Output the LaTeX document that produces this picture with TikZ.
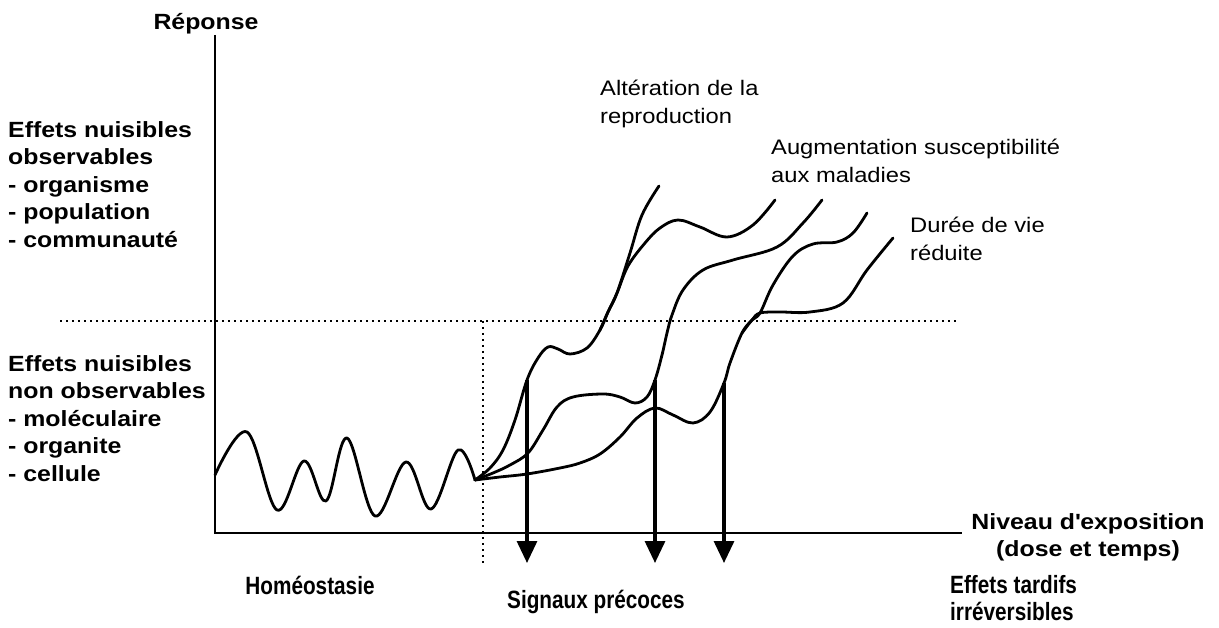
\documentclass[tikz,border=0pt]{standalone}
\usepackage{fontspec}
\setmainfont{Liberation Sans}[FakeStretch=1.13]
\newfontfamily\narrowfont{Liberation Sans}[FakeStretch=0.83]
\usetikzlibrary{arrows.meta}
\begin{document}
\begin{tikzpicture}[x=1pt,y=-1pt,
  curve/.style={line width=2.8pt, line cap=round, line join=round},
  axisline/.style={line width=2.3pt},
  dotline/.style={line width=1.8pt, dash pattern=on 1.8pt off 4.2pt},
  signal/.style={line width=3.2pt, -{Triangle[length=22pt,width=20pt]}},
  blab/.style={font=\fontsize{22}{27.5}\selectfont\bfseries, align=left, inner sep=0pt},
  nlab/.style={font=\fontsize{25}{27}\selectfont\narrowfont\bfseries, align=left, inner sep=0pt},
  rlab/.style={font=\fontsize{21}{28}\selectfont, align=left, inner sep=0pt},
]
\useasboundingbox (0,0) rectangle (1219,628);
\fill[white] (0,0) rectangle (1219,628);

% axes
\coordinate (ytop) at (215,35);
\coordinate (origin) at (215,533);
\coordinate (xend) at (962,533);
\draw[axisline] (ytop) -- (origin) -- (xend);

% dotted separators
\coordinate (hl) at (60,321);
\coordinate (hr) at (958,321);
\coordinate (vt) at (483,321);
\coordinate (vb) at (483,566);
\draw[dotline] (hl) -- (hr);
\draw[dotline] (vt) -- (vb);

% homeostasis wave
\coordinate (O) at (475,480);
\draw[curve] plot[smooth, tension=0.6] coordinates {(215,475) (247,432) (277,510) (304,461) (326,501) (347,438) (375,516) (406,462) (431,509) (458,450) (475,480)};

% curve 1 (two branches)
\draw[curve] plot[smooth, tension=0.6] coordinates {(475,480) (490,468) (503,450) (515,420) (527,380) (538,358) (548,347) (558,349) (570,354) (587,348) (600,330) (608,312) (617,293) (630,253) (642,215) (659,186)};
\draw[curve] plot[smooth, tension=0.6] coordinates {(600,330) (608,312) (617,293) (628,266) (645,243) (660,228) (678,220) (700,227) (727,237) (753,225) (775,200)};

% curve 2
\draw[curve] plot[smooth, tension=0.6] coordinates {(475,480) (493,473) (510,465) (528,453) (543,430) (557,407) (573,397) (603,394) (620,397) (635,403) (647,397) (655,380) (662,355) (667,333) (672,315) (683,290) (703,270) (733,260) (777,247) (803,223) (822,200)};

% curve 3 (two branches)
\draw[curve] plot[smooth, tension=0.6] coordinates {(475,480) (500,477) (527,474) (560,468) (580,463) (600,454) (620,437) (637,418) (655,408) (673,415) (693,423) (710,412) (724,383) (730,363) (742,333) (752,320) (760,313) (773,285) (793,256) (813,244) (837,242) (853,233) (867,213)};
\draw[curve] plot[smooth, tension=0.6] coordinates {(742,333) (752,320) (760,313) (780,312) (810,312) (843,303) (867,270) (893,238)};

% early signals
\coordinate (t1) at (527,380);
\coordinate (b1) at (527,563);
\coordinate (t2) at (655,380);
\coordinate (b2) at (655,563);
\coordinate (t3) at (724,383);
\coordinate (b3) at (724,563);
\draw[signal] (t1) -- (b1);
\draw[signal] (t2) -- (b2);
\draw[signal] (t3) -- (b3);

% labels
\node[blab, anchor=base] (rep) at (206,30) {Réponse};
\node[blab, anchor=north west] (obs) at (8,121) {Effets nuisibles\\observables\\- organisme\\- population\\- communauté};
\node[blab, anchor=north west] (nobs) at (8,355) {Effets nuisibles\\non observables\\- moléculaire\\- organite\\- cellule};
\node[blab, align=center, anchor=north] (niv) at (1088,513) {Niveau d\textquotesingle exposition\\(dose et temps)};
\node[nlab, anchor=base] (homeo) at (310,594) {Homéostasie};
\node[nlab, anchor=base] (sig) at (596,608) {Signaux précoces};
\node[nlab, anchor=north west] (tard) at (950,575) {Effets tardifs\\irréversibles};
\node[rlab, anchor=north west] (alt) at (600,80) {Altération de la\\reproduction};
\node[rlab, anchor=north west] (aug) at (771,139) {Augmentation susceptibilité\\aux maladies};
\node[rlab, anchor=north west] (duree) at (910,217) {Durée de vie\\réduite};
\end{tikzpicture}
\end{document}
